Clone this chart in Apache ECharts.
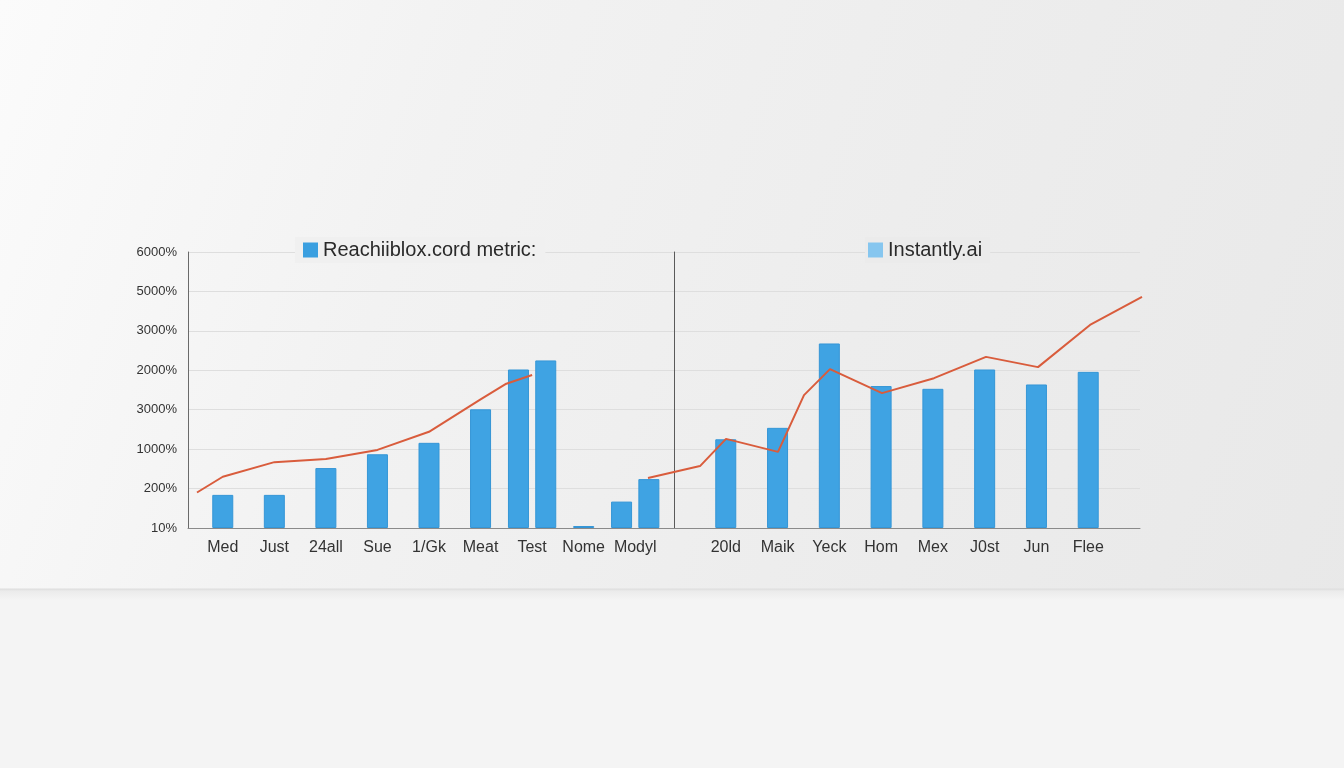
<!DOCTYPE html>
<html>
<head>
<meta charset="utf-8">
<title>chart</title>
<script src="https://cdn.jsdelivr.net/npm/echarts@6/dist/echarts.min.js"></script>
<style>
  html, body { margin: 0; padding: 0; }
  body {
    width: 1344px; height: 768px; overflow: hidden;
    background:
      linear-gradient(180deg, rgba(0,0,0,0) 0, rgba(0,0,0,0) 588px, #dedede 589px, #ebebeb 591px, #f4f4f4 600px, #f4f4f4 100%),
      linear-gradient(110deg, #fbfbfb 0%, #f2f2f2 30%, #ededed 60%, #e8e8e8 100%);
  }
  #main { width: 1344px; height: 768px; }
</style>
</head>
<body>
<div id="main"></div>
<script>
// y轴刻度（原图就是这样，不是单调的）
var yTicks = ['10%', '200%', '1000%', '3000%', '2000%', '3000%', '5000%', '6000%'];

// 左图
var leftCats = ['Med', 'Just', '24all', 'Sue', '1/Gk', 'Meat', 'Test', 'Nome', 'Modyl'];
var leftBars = [0.84, 0.84, 1.52, 1.87, 2.16, 3.01, null, 0.05, null];
var leftPairA = [null, null, null, null, null, null, 4.02, null, 0.67];
var leftPairB = [null, null, null, null, null, null, 4.25, null, 1.24];
// 半格一个点
var leftLine = [0.9, 1.30, null, 1.67, null, 1.75, null, 1.98, null, 2.44, null, 3.26, 3.66, 3.88, null, null, null, null, null];

// 右图
var rightCats = ['', '20ld', 'Maik', 'Yeck', 'Hom', 'Mex', 'J0st', 'Jun', 'Flee', ''];
var rightBars = [null, 2.25, 2.54, 4.68, 3.60, 3.53, 4.02, 3.64, 3.96, null];
var rightLine = [1.27, null, 1.57, 2.26, null, 1.93, 3.37, 4.03, null, 3.42, null, 3.80, null, 4.34, null, 4.08, null, 5.15, null, 5.86];

var leftName = 'Reachiiblox.cord metric:';
var rightName = 'Instantly.ai';

var blankCats = function(n){
  var arr = [];
  for (var i = 0; i < n; i++) { arr.push(''); }
  return arr;
};

var myChart = echarts.init(document.getElementById('main'));

var gridTop = 252, gridH = 276;
var fontName = '"Liberation Sans", Arial, sans-serif';
var barColor = '#3fa3e3';
var lineColor = '#d95c3c';

var hiddenY = function(gi){
  return { type: 'value', gridIndex: gi, min: 0, max: 7, interval: 1, show: false };
};

var option = {
  backgroundColor: 'transparent',
  textStyle: { fontFamily: fontName },
  legend: [
    {
      data: [{ name: leftName, itemStyle: { color: '#3a9fe0', borderWidth: 0 } }],
      left: 295, top: 237,
      icon: 'rect', itemWidth: 15, itemHeight: 15, itemGap: 6,
      padding: [3, 9, 3, 8],
      backgroundColor: '#f0f0f0',
      textStyle: { fontSize: 20, color: '#2a2a2a', fontFamily: fontName },
      selectedMode: false
    },
    {
      data: [{ name: rightName, itemStyle: { color: '#86c6ef', borderWidth: 0 } }],
      left: 865, top: 237,
      icon: 'rect', itemWidth: 15, itemHeight: 15, itemGap: 6,
      padding: [3, 8, 3, 3],
      backgroundColor: '#ebebeb',
      textStyle: { fontSize: 20, color: '#2a2a2a', fontFamily: fontName },
      selectedMode: false
    }
  ],
  grid: [
    // 网格线和外框
    { left: 188, top: gridTop, width: 952, height: gridH },
    // 左图柱子
    { left: 197, top: gridTop, width: 464, height: gridH },
    // 右图柱子
    { left: 674, top: gridTop, width: 466, height: gridH },
    // 右边折线（越过竖线）
    { left: 648, top: gridTop, width: 494, height: gridH }
  ],
  xAxis: [
    {
      type: 'value', gridIndex: 0, min: 0, max: 1,
      axisLabel: { show: false }, axisTick: { show: false }, splitLine: { show: false },
      axisLine: { show: true, onZero: false, lineStyle: { color: '#8a8a8a', width: 1 } }
    },
    {
      type: 'category', gridIndex: 1, data: leftCats,
      axisLine: { show: false }, axisTick: { show: false },
      axisLabel: { color: '#333', fontSize: 16, margin: 12, fontFamily: fontName, interval: 0 }
    },
    {
      type: 'category', gridIndex: 1, data: leftCats, show: false
    },
    {
      type: 'category', gridIndex: 1, data: blankCats(19), boundaryGap: false, show: false
    },
    {
      type: 'category', gridIndex: 2, data: rightCats, boundaryGap: false,
      axisLine: { show: false }, axisTick: { show: false },
      axisLabel: { color: '#333', fontSize: 16, margin: 12, fontFamily: fontName, interval: 0 }
    },
    {
      type: 'category', gridIndex: 3, data: blankCats(20), boundaryGap: false, show: false
    }
  ],
  yAxis: [
    {
      type: 'value', gridIndex: 0, min: 0, max: 7, interval: 1,
      axisLine: { show: true, lineStyle: { color: '#6a6a6a', width: 1 } },
      axisTick: { show: false },
      axisLabel: {
        color: '#333', fontSize: 13, margin: 11, fontFamily: fontName,
        formatter: function(v){ return yTicks[Math.round(v)]; }
      },
      splitLine: { show: true, lineStyle: { color: '#dedede', width: 1 } }
    },
    hiddenY(1),
    {
      type: 'value', gridIndex: 2, min: 0, max: 7, interval: 1,
      axisLine: { show: true, lineStyle: { color: '#5a5a5a', width: 1 } },
      axisTick: { show: false }, axisLabel: { show: false }, splitLine: { show: false }
    },
    hiddenY(3)
  ],
  series: [
    {
      name: leftName, type: 'bar', xAxisIndex: 1, yAxisIndex: 1,
      barWidth: 21, data: leftBars,
      itemStyle: { color: barColor, borderColor: '#3596d6', borderWidth: 1 }
    },
    {
      name: leftName, type: 'bar', xAxisIndex: 2, yAxisIndex: 1,
      barWidth: 21, barGap: '30%', data: leftPairA,
      itemStyle: { color: barColor, borderColor: '#3596d6', borderWidth: 1 }
    },
    {
      name: leftName, type: 'bar', xAxisIndex: 2, yAxisIndex: 1,
      barWidth: 21, barGap: '30%', data: leftPairB,
      itemStyle: { color: barColor, borderColor: '#3596d6', borderWidth: 1 }
    },
    {
      name: rightName, type: 'bar', xAxisIndex: 4, yAxisIndex: 2,
      barWidth: 21, data: rightBars,
      itemStyle: { color: barColor, borderColor: '#3596d6', borderWidth: 1 }
    },
    {
      name: 'leftTrend', type: 'line', xAxisIndex: 3, yAxisIndex: 1,
      data: leftLine, connectNulls: true, symbol: 'none', clip: false,
      lineStyle: { color: lineColor, width: 2 }, z: 5
    },
    {
      name: 'rightTrend', type: 'line', xAxisIndex: 5, yAxisIndex: 3,
      data: rightLine, connectNulls: true, symbol: 'none', clip: false,
      lineStyle: { color: lineColor, width: 2 }, z: 5
    }
  ]
};

myChart.setOption(option);
</script>
</body>
</html>
